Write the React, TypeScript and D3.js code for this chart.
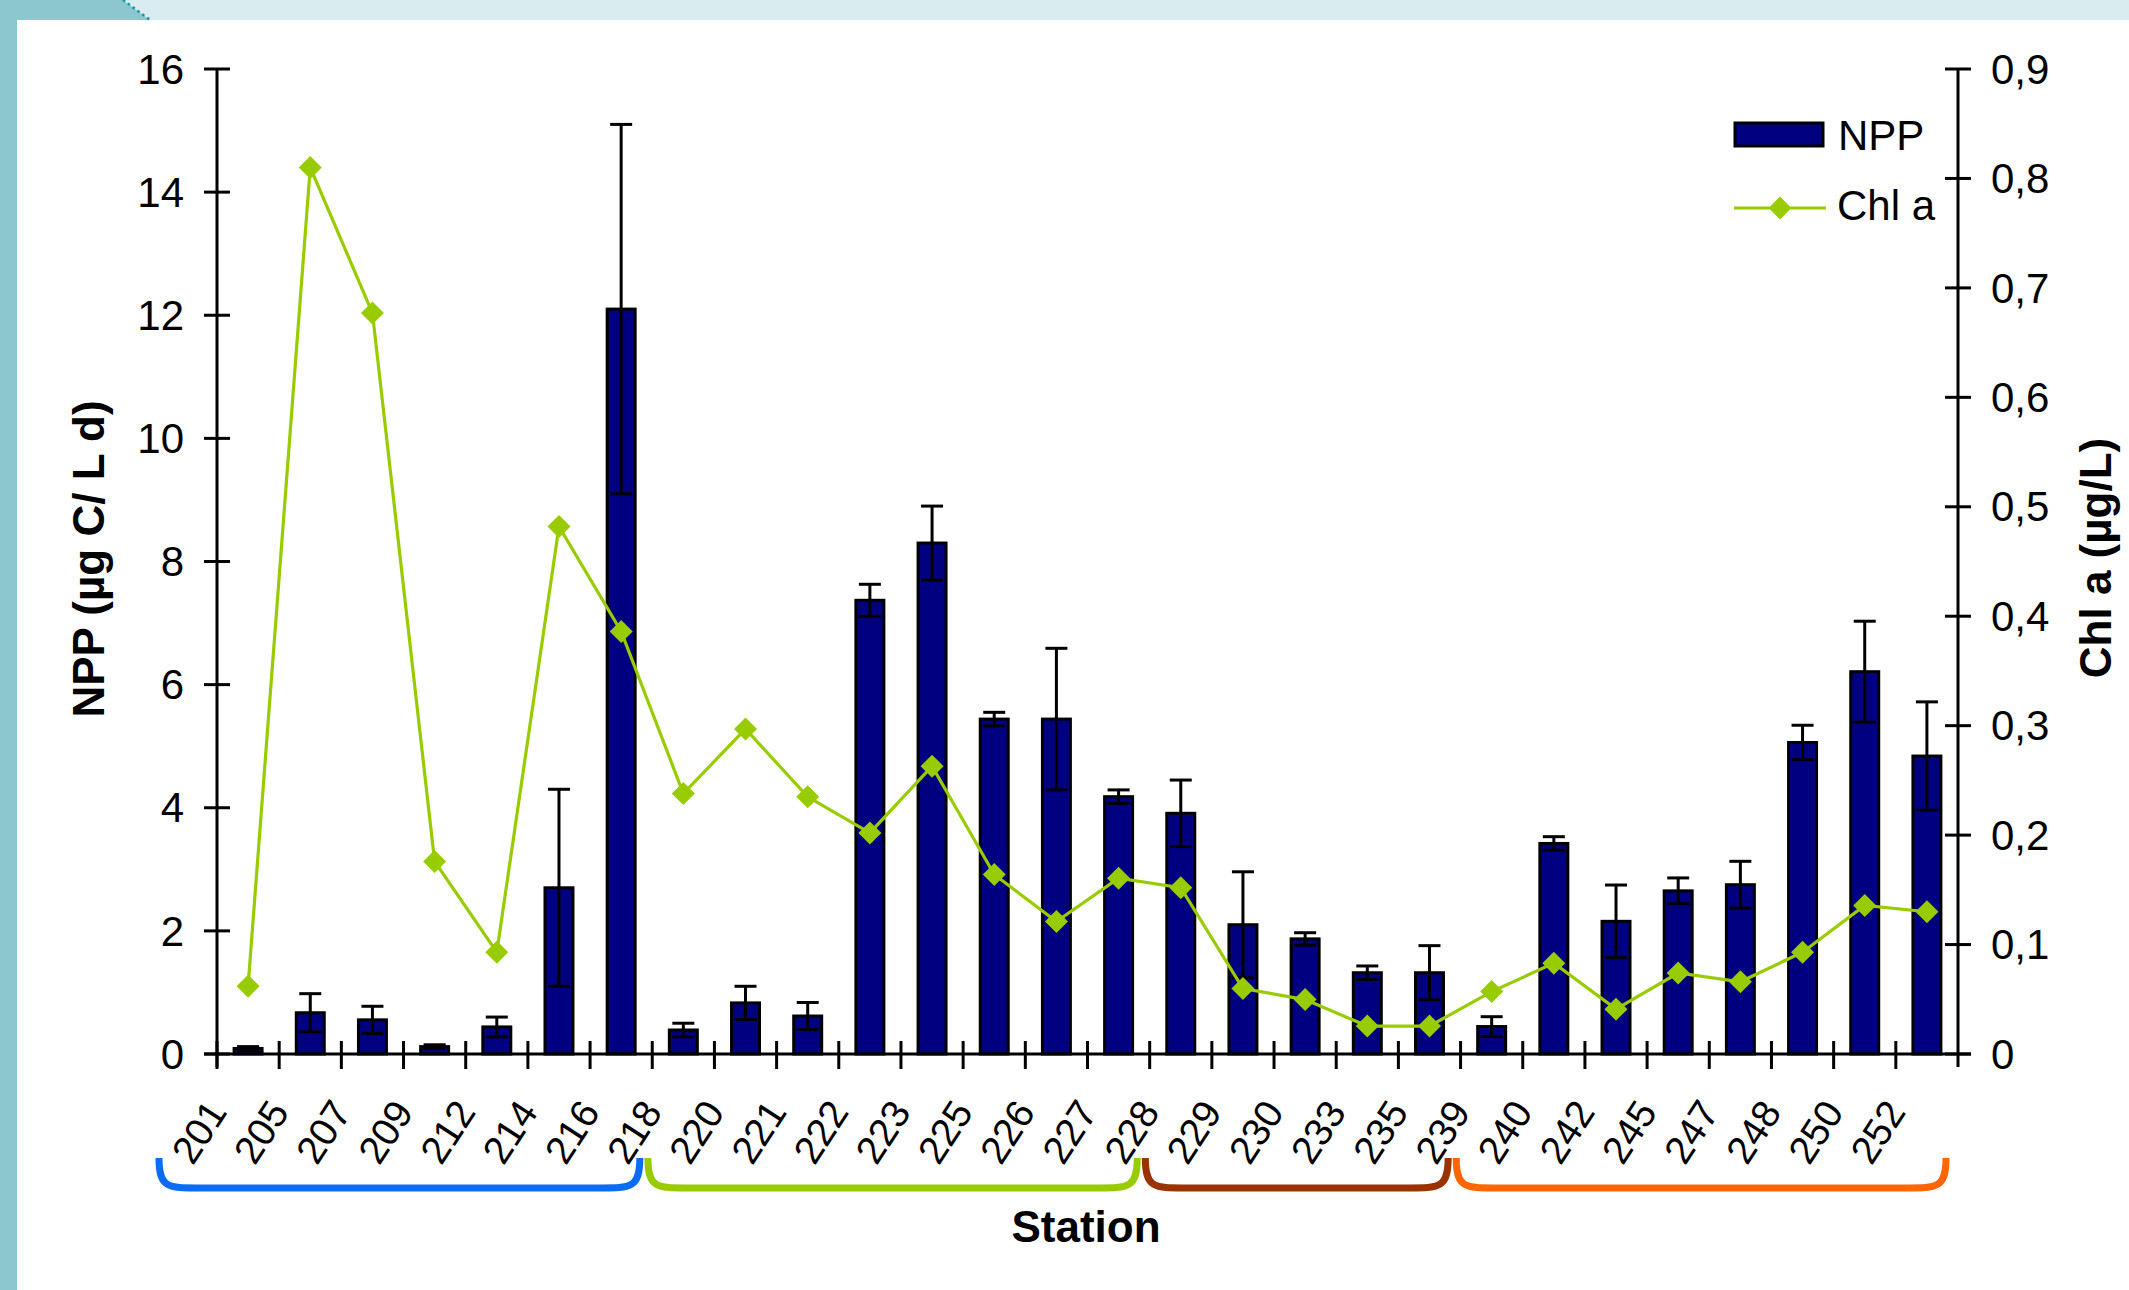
import React, { useEffect } from "react";
import * as d3 from "d3";

// Stations along the transect
const stations = [
  "201", "205", "207", "209", "212", "214", "216", "218",
  "220", "221", "222", "223", "225", "226", "227", "228",
  "229", "230", "233", "235", "239",
  "240", "242", "245", "247", "248", "250", "252",
];

// Net primary production (µg C / L d) and its error
const nppValues = [
  0.09, 0.67, 0.555, 0.12, 0.44, 2.7, 12.1, 0.39,
  0.83, 0.617, 7.37, 8.3, 5.44, 5.44, 4.18, 3.91,
  2.1, 1.87, 1.32, 1.32, 0.446,
  3.42, 2.155, 2.65, 2.75, 5.06, 6.21, 4.84,
];
const nppErrors = [
  0.03, 0.31, 0.22, 0.03, 0.16, 1.6, 3.0, 0.11,
  0.27, 0.22, 0.26, 0.6, 0.11, 1.15, 0.11, 0.54,
  0.86, 0.1, 0.11, 0.44, 0.16,
  0.11, 0.59, 0.21, 0.38, 0.28, 0.82, 0.88,
];

// Chlorophyll a (µg/L)
const chlValues = [
  0.062, 0.81, 0.677, 0.176, 0.093, 0.482, 0.386, 0.238,
  0.297, 0.235, 0.202, 0.263, 0.164, 0.121, 0.1606, 0.152,
  0.0598, 0.0497, 0.0255, 0.0255, 0.057,
  0.083, 0.041, 0.074, 0.066, 0.093, 0.1357, 0.13,
];

// Station groups marked with brackets under the axis
const groupFirst = ["201", "220", "229", "240"];
const groupLast = ["218", "228", "239", "252"];
const groupColors = ["#0a6cf5", "#99cc00", "#993300", "#ff6600"];

const nppTicks = [0, 2, 4, 6, 8, 10, 12, 14, 16];
const chlTicks = [0, 0.1, 0.2, 0.3, 0.4, 0.5, 0.6, 0.7, 0.8, 0.9];

const W = 2129;
const H = 1290;
const FONT = "'Liberation Sans', Arial, Helvetica, sans-serif";
const NAVY = "#000080";
const LIME = "#99cc00";

export default function App() {
  useEffect(() => {
    document.body.style.margin = "0";
  }, []);

  const left = 217;
  const right = 1958;
  const top = 69;
  const bottom = 1054;

  const x = d3.scaleBand<string>().domain(stations).range([left, right]).padding(0);
  const step = x.step();
  const barW = step * 0.45;
  const cx = (s: string) => (x(s) as number) + step / 2;

  const yL = d3.scaleLinear().domain([0, 16]).range([bottom, top]);
  const yR = d3.scaleLinear().domain([0, 0.9]).range([bottom, top]);

  const line = d3
    .line<number>()
    .x((_, i) => cx(stations[i]))
    .y((v) => yR(v));

  const diamond = (px: number, py: number, r: number) =>
    `M${px},${py - r}L${px + r},${py}L${px},${py + r}L${px - r},${py}Z`;

  const fmtR = (v: number) => (v === 0 ? "0" : d3.format(".1f")(v).replace(".", ","));

  const tickHalf = 13;
  const capHalf = 11;

  const bracket = (x0: number, x1: number) => {
    const t = 1158;
    const b = 1188;
    const r = 46;
    return `M${x0},${t} C${x0},${b + 2} ${x0 + 10},${b} ${x0 + r},${b} L${x1 - r},${b} C${x1 - 10},${b} ${x1},${b + 2} ${x1},${t}`;
  };

  return (
    <svg
      width={W}
      height={H}
      style={{ position: "absolute", left: 0, top: 0, display: "block" }}
      fontFamily={FONT}
    >
      <rect x={0} y={0} width={W} height={H} fill="#ffffff" />
      {/* slide frame */}
      <rect x={0} y={0} width={W} height={20} fill="#d9ecef" />
      <polygon points="0,0 123,0 150,20 0,20" fill="#8cc7cf" />
      <rect x={0} y={0} width={17} height={H} fill="#8cc7cf" />
      <line
        x1={123}
        y1={0}
        x2={150}
        y2={20}
        stroke="#159aa3"
        strokeWidth={2.6}
        strokeDasharray="2.5 3.5"
      />

      {/* bars */}
      {stations.map((s, i) => (
        <rect
          key={"b" + s}
          x={cx(s) - barW / 2}
          y={yL(nppValues[i])}
          width={barW}
          height={bottom - yL(nppValues[i])}
          fill={NAVY}
          stroke="#000"
          strokeWidth={3}
        />
      ))}

      {/* error bars */}
      {stations.map((s, i) => {
        const c = cx(s);
        const hi = yL(nppValues[i] + nppErrors[i]);
        const lo = yL(Math.max(0, nppValues[i] - nppErrors[i]));
        return (
          <g key={"e" + s} stroke="#000" strokeWidth={3}>
            <line x1={c} x2={c} y1={hi} y2={lo} />
            <line x1={c - capHalf} x2={c + capHalf} y1={hi} y2={hi} />
            <line x1={c - capHalf} x2={c + capHalf} y1={lo} y2={lo} />
          </g>
        );
      })}

      {/* chlorophyll line */}
      <path d={line(chlValues) || ""} fill="none" stroke={LIME} strokeWidth={3.2} />
      {chlValues.map((v, i) => (
        <path key={"d" + i} d={diamond(cx(stations[i]), yR(v), 11.5)} fill={LIME} />
      ))}

      {/* axes */}
      <g stroke="#000" strokeWidth={3}>
        <line x1={left} x2={left} y1={top} y2={bottom + tickHalf} />
        <line x1={right} x2={right} y1={top} y2={bottom + tickHalf} />
        <line x1={left - tickHalf} x2={right + tickHalf} y1={bottom} y2={bottom} />
        {nppTicks.map((t) => (
          <line key={"lt" + t} x1={left - tickHalf} x2={left + tickHalf} y1={yL(t)} y2={yL(t)} />
        ))}
        {chlTicks.map((t) => (
          <line key={"rt" + t} x1={right - tickHalf} x2={right + tickHalf} y1={yR(t)} y2={yR(t)} />
        ))}
        {stations.map((s) => (
          <line
            key={"xt" + s}
            x1={x(s) as number}
            x2={x(s) as number}
            y1={bottom - tickHalf}
            y2={bottom + tickHalf + 2}
          />
        ))}
      </g>

      {/* tick labels */}
      <g fontSize={42} fill="#000">
        {nppTicks.map((t) => (
          <text key={"ll" + t} x={184} y={yL(t)} dy="0.35em" textAnchor="end">
            {t}
          </text>
        ))}
        {chlTicks.map((t) => (
          <text key={"rl" + t} x={1991} y={yR(t)} dy="0.35em" textAnchor="start">
            {fmtR(t)}
          </text>
        ))}
      </g>
      <g fontSize={39} fill="#000">
        {stations.map((s) => (
          <text
            key={"xl" + s}
            textAnchor="end"
            transform={`translate(${cx(s) - 20},${1112}) rotate(-57)`}
          >
            {s}
          </text>
        ))}
      </g>

      {/* group brackets */}
      {groupFirst.map((g, k) => {
        const x0 = Math.max((x(g) as number) - step * 1.07, left - 58);
        const x1 =
          k === groupFirst.length - 1
            ? right - 12
            : (x(groupLast[k]) as number) - step * 0.2;
        return (
          <path
            key={"br" + g}
            d={bracket(x0, x1)}
            fill="none"
            stroke={groupColors[k]}
            strokeWidth={7}
            strokeLinecap="butt"
          />
        );
      })}

      {/* axis titles */}
      <text
        transform="translate(104,559) rotate(-90)"
        textAnchor="middle"
        fontSize={44}
        fontWeight="bold"
      >
        NPP (µg C/ L d)
      </text>
      <text
        transform="translate(2111,558) rotate(-90)"
        textAnchor="middle"
        fontSize={44}
        fontWeight="bold"
      >
        Chl a (µg/L)
      </text>
      <text x={1086} y={1242} textAnchor="middle" fontSize={44} fontWeight="bold">
        Station
      </text>

      {/* legend */}
      <rect x={1735} y={123} width={88} height={23} fill={NAVY} stroke="#000" strokeWidth={3} />
      <text x={1838} y={150} fontSize={42}>
        NPP
      </text>
      <line x1={1734} x2={1826} y1={208} y2={208} stroke={LIME} strokeWidth={3.2} />
      <path d={diamond(1780, 208, 11.5)} fill={LIME} />
      <text x={1837} y={220} fontSize={42}>
        Chl a
      </text>
    </svg>
  );
}
